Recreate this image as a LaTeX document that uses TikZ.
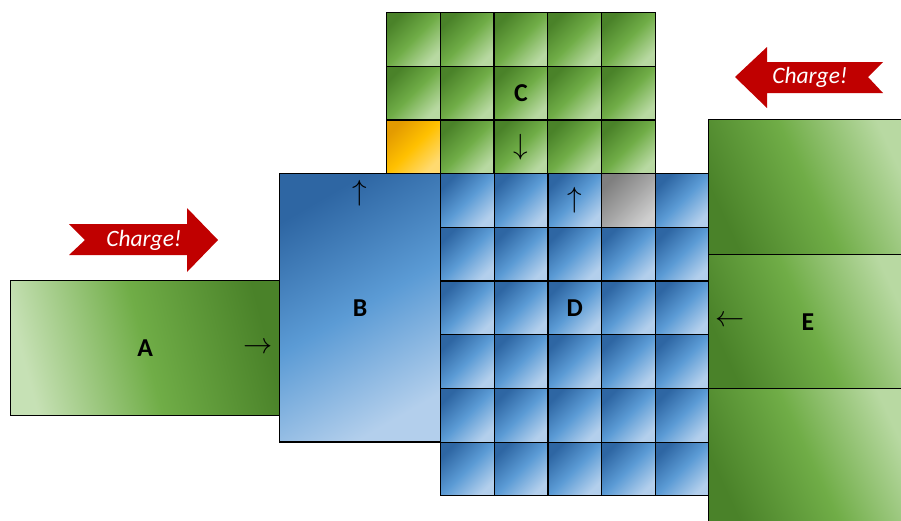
\documentclass[tikz,border=0pt]{standalone}
\usepackage{fontspec}
\setmainfont{Carlito}
\usetikzlibrary{positioning}
\definecolor{grdark}{HTML}{4A8229}
\definecolor{grmid}{HTML}{70AD47}
\definecolor{grlight}{HTML}{B8D9A2}
\definecolor{bldark}{HTML}{2E66A3}
\definecolor{blmid}{HTML}{5B9BD5}
\definecolor{bllight}{HTML}{B3CFEC}
\definecolor{yedark}{HTML}{E39B00}
\definecolor{yemid}{HTML}{FFC000}
\definecolor{yelight}{HTML}{FFDA70}
\definecolor{gydark}{HTML}{7F7F7F}
\definecolor{gymid}{HTML}{A5A5A5}
\definecolor{gylight}{HTML}{CFCFCF}
\definecolor{chargered}{HTML}{C00000}
\tikzset{
  cell/.style={draw=black, line width=1pt, minimum width=1.611cm, minimum height=1.611cm, inner sep=0pt, anchor=north west},
  gcell/.style={cell, top color=grdark, bottom color=grlight, middle color=grmid, shading angle=45},
  bcell/.style={cell, top color=bldark, bottom color=bllight, middle color=blmid, shading angle=45},
  ycell/.style={cell, top color=yedark, bottom color=yelight, middle color=yemid, shading angle=45},
  gycell/.style={cell, top color=gydark, bottom color=gylight, middle color=gymid, shading angle=45},
  lbl/.style={font=\fontsize{22}{26}\selectfont\bfseries, inner sep=0pt},
  dir/.style={font=\fontsize{25}{30}\selectfont, inner sep=0pt},
  charge/.style={fill=chargered, draw=none},
  chargetxt/.style={text=white, font=\fontsize{20}{24}\selectfont\itshape, inner sep=0pt}
}
\begin{document}
\begin{tikzpicture}[x=0.03cm, y=-0.03cm]
\clip (0,0) rectangle (901,520);
% A block
\node[draw=black, line width=1pt, inner sep=0pt, minimum width=8.07cm, minimum height=4.05cm, anchor=north west,
  top color=grdark, bottom color=grlight!80!white, middle color=grmid, shading angle=-75] (A) at (10,280) {};
\node[lbl] (labA) at (A.center) {A};
\node[dir, left=6pt of A.east] (arrA) {$\rightarrow$};
% B block
\node[draw=black, line width=1pt, inner sep=0pt, minimum width=4.83cm, minimum height=8.05cm, anchor=north west,
  top color=bldark, bottom color=bllight, middle color=blmid, shading angle=30] (B) at (279,173) {};
\node[lbl] (labB) at (B.center) {B};
\node[dir, below=6pt of B.north] (arrB) {$\uparrow$};
% C grid
\foreach \i in {0,...,4}
  \foreach \j in {0,...,2}
    \node[gcell] (c\i\j) at (386+\i*53.7, 12+\j*53.7) {};
\node[ycell] (c02) at (386, 12+2*53.7) {};
\node[lbl] (labC) at (c21.center) {C};
\node[dir] (arrC) at (c22.center) {$\downarrow$};
% D grid
\foreach \i in {0,...,4}
  \foreach \j in {0,...,5}
    \node[bcell] (d\i\j) at (440+\i*53.7, 173+\j*53.7) {};
\node[gycell] (d30) at (440+3*53.7, 173) {};
\node[lbl] (labD) at (d22.center) {D};
\node[dir] (arrD) at (d20.center) {$\uparrow$};
% E block
\foreach \k/\y in {1/119, 2/253.5, 3/388}
  \node[draw=black, line width=1pt, inner sep=0pt, minimum width=6cm, minimum height=4.05cm, anchor=north west,
    top color=grlight, bottom color=grdark, middle color=grmid, shading angle=-65] (e\k) at (708,\y) {};
\node[lbl] (labE) at (808,322) {E};
\node[dir, right=6pt of e2.west] (arrE) {$\leftarrow$};
% charge arrows
\draw[charge] (69,224) -- (187,224) -- (187,208) -- (218,240) -- (187,272) -- (187,255) -- (69,255) -- (85,240) -- cycle;
\node[chargetxt] (chargeL) at (144,240) {Charge!};
\draw[charge] (883,62) -- (767,62) -- (767,47) -- (735,77) -- (767,108) -- (767,93) -- (883,93) -- (868,77) -- cycle;
\node[chargetxt] (chargeR) at (810,77) {Charge!};
\end{tikzpicture}
\end{document}
